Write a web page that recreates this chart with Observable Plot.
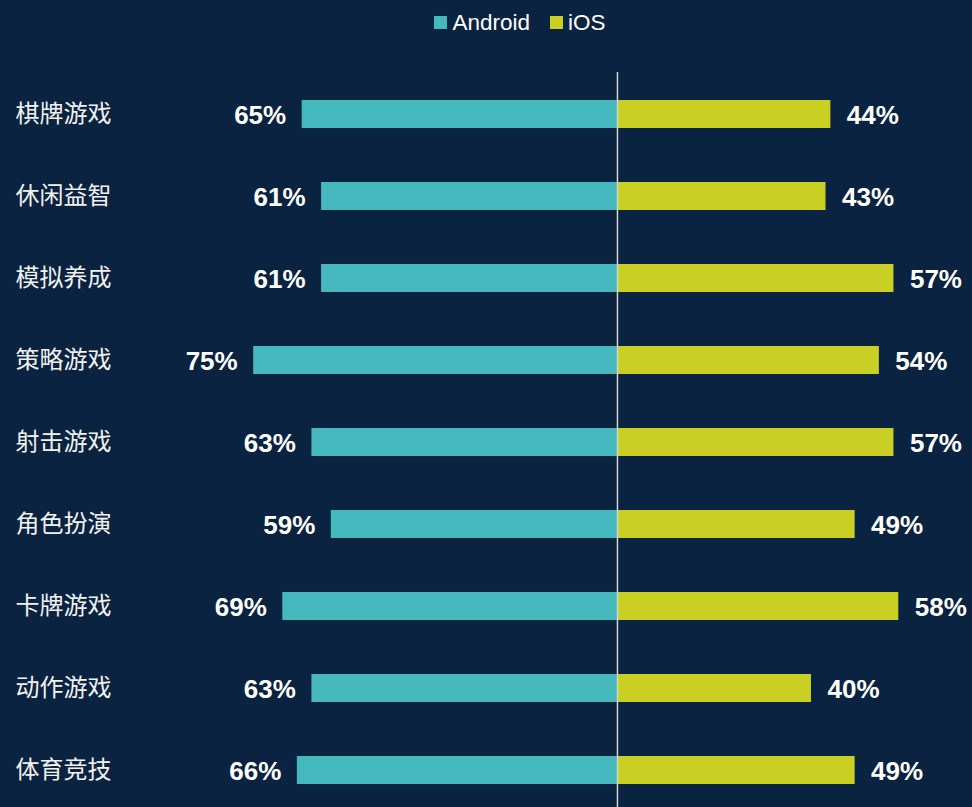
<!DOCTYPE html>
<html><head><meta charset="utf-8">
<script src="https://cdn.jsdelivr.net/npm/d3@7"></script>
<script src="https://cdn.jsdelivr.net/npm/@observablehq/plot@0.6"></script>
<style>
html,body{margin:0;padding:0;background:#0a2340;overflow:hidden;}
#legend{height:45px;display:flex;justify-content:center;align-items:center;font-family:"Liberation Sans",Arial,sans-serif;font-size:22.5px;color:#fff;padding-left:68px;box-sizing:border-box;}
.item{display:flex;align-items:center;margin:0 10px;}
.sw{width:13px;height:13px;margin-right:5px;}
</style></head><body>
<div id="legend"></div>
<div id="chart"></div>
<script>
const categories = ["棋牌游戏","休闲益智","模拟养成","策略游戏","射击游戏","角色扮演","卡牌游戏","动作游戏","体育竞技"];
const android = [65, 61, 61, 75, 63, 59, 69, 63, 66];
const ios = [44, 43, 57, 54, 57, 49, 58, 40, 49];
const seriesNames = ["Android", "iOS"];
const seriesColors = ["#45b8be", "#c9cf23"];

const leg = document.getElementById("legend");
seriesNames.forEach((n, i) => {
  const it = document.createElement("div"); it.className = "item";
  const sw = document.createElement("div"); sw.className = "sw"; sw.style.background = seriesColors[i];
  const t = document.createElement("span"); t.textContent = n;
  it.appendChild(sw); it.appendChild(t); leg.appendChild(it);
});

const rows = categories.flatMap((c, i) => [
  {cat: c, series: "Android", value: android[i]},
  {cat: c, series: "iOS", value: ios[i]}
]);
const aRows = rows.filter(d => d.series === "Android");
const iRows = rows.filter(d => d.series === "iOS");

const chart = Plot.plot({
  width: 972,
  height: 762,
  marginLeft: 0,
  marginRight: 0,
  marginTop: 41,
  marginBottom: 9,
  style: {background: "transparent", fontFamily: "'Liberation Sans', Arial, sans-serif", color: "#fff"},
  x: {domain: [-127.2, 73.2], axis: null},
  y: {domain: categories, axis: null, paddingInner: 0.66, paddingOuter: 0.17},
  color: {domain: seriesNames, range: seriesColors},
  marks: [
    Plot.barX(rows, {x1: 0, x2: d => d.series === "Android" ? -d.value : d.value, y: "cat", fill: "series"}),
    Plot.ruleX([0], {stroke: "#d4d4d4", strokeWidth: 1.5, insetTop: -14, insetBottom: -9}),
    Plot.text(aRows, {x: d => -d.value, y: "cat", text: d => d.value + "%", textAnchor: "end", dx: -16, dy: 1, fill: "#fff", fontWeight: "bold", fontSize: 26}),
    Plot.text(iRows, {x: d => d.value, y: "cat", text: d => d.value + "%", textAnchor: "start", dx: 16, dy: 1, fill: "#fff", fontWeight: "bold", fontSize: 26}),
    Plot.text(categories, {y: d => d, frameAnchor: "left", dx: 15, textAnchor: "start", fontSize: 24, fill: "#f2f2f2", fontFamily: "'Noto Sans CJK SC', sans-serif"})
  ]
});
document.getElementById("chart").appendChild(chart);
</script>
</body></html>
